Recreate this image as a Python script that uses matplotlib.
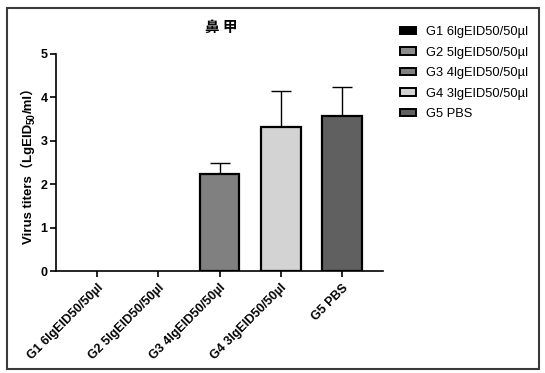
import matplotlib
matplotlib.use('Agg')
import matplotlib.pyplot as plt
from matplotlib.patches import Patch, Rectangle

plt.rcParams['font.family'] = ['Liberation Sans', 'Noto Sans CJK SC', 'DejaVu Sans']

groups = ['G1 6lgEID50/50µl', 'G2 5lgEID50/50µl', 'G3 4lgEID50/50µl',
          'G4 3lgEID50/50µl', 'G5 PBS']
means = [0.0, 0.0, 2.23, 3.32, 3.57]
err_up = [0.0, 0.0, 0.27, 0.83, 0.66]
bar_colors = ['#000000', '#8c8c8c', '#808080', '#d3d3d3', '#606060']
yticks = [0, 1, 2, 3, 4, 5]

W, H = 545, 373
fig = plt.figure(figsize=(W / 100, H / 100), dpi=100)
ax = fig.add_axes([56 / W, 1 - 271 / H, 327 / W, 217 / H])

x = list(range(len(groups)))
lws = [1.6 if m > 0 else 0 for m in means]
ax.bar(x, means, width=0.65, color=bar_colors, edgecolor='black', linewidth=lws, zorder=2)
for xi, m, e in zip(x, means, err_up):
    if e > 0:
        ax.errorbar(xi, m, yerr=[[0], [e]], fmt='none', ecolor='black',
                    elinewidth=1.0, capsize=7.5, capthick=1.0, zorder=1)

ax.set_xlim(-0.67, 4.67)
ax.set_ylim(0, 5)
ax.set_yticks(yticks)
ax.set_xticks(x)
ax.set_xticklabels(groups, rotation=45, ha='right', rotation_mode='anchor',
                   fontsize=9, fontweight='bold')
for lab in ax.get_yticklabels():
    lab.set_fontweight('bold')
    lab.set_fontsize(9)
for s in ['top', 'right']:
    ax.spines[s].set_visible(False)
for s in ['left', 'bottom']:
    ax.spines[s].set_linewidth(1.2)
ax.tick_params(axis='both', length=4, width=1.2, pad=2)
ax.tick_params(axis='x', pad=4)

# title
fig.text(221 / W, 1 - 27 / H, '鼻 甲', ha='center', va='center', fontsize=10.5,
         fontweight='bold', family=['Noto Sans CJK SC'])

# y label built from pieces (full-width parens + subscript)
fig.canvas.draw()
r = fig.canvas.get_renderer()
lx = 32
ytxt = [('Virus titers（LgEID', 9.5, 0), ('50', 7, 2.5), ('/ml）', 9.5, 0)]
total = 0
pieces = []
for s, fs, dx in ytxt:
    t = fig.text(0, 0, s, rotation=90, rotation_mode='anchor', ha='left', va='baseline',
                 fontsize=fs, fontweight='bold')
    bb = t.get_window_extent(r)
    pieces.append((t, bb.height, dx))
    total += bb.height
ystart = (271 + 54) / 2 + total / 2
cur = H - ystart
for t, h, dx in pieces:
    t.set_position(((lx + dx) / W, cur / H))
    cur += h

# legend
handles = [Patch(facecolor=c, edgecolor='black', linewidth=1.4) for c in bar_colors]
fig.legend(handles, groups, loc='upper left', bbox_to_anchor=(400 / W, 1 - 26 / H),
           frameon=False, fontsize=9.3, handlelength=1.2, handleheight=0.55,
           handletextpad=0.8, labelspacing=0.66, borderpad=0, borderaxespad=0)

# outer frame
fig.patches.append(Rectangle((7 / W, 1 - 369 / H), 532 / W, 361 / H, transform=fig.transFigure,
                             fill=False, edgecolor='#3a3a3a', linewidth=1.5))

fig.savefig('out.png', dpi=100)
